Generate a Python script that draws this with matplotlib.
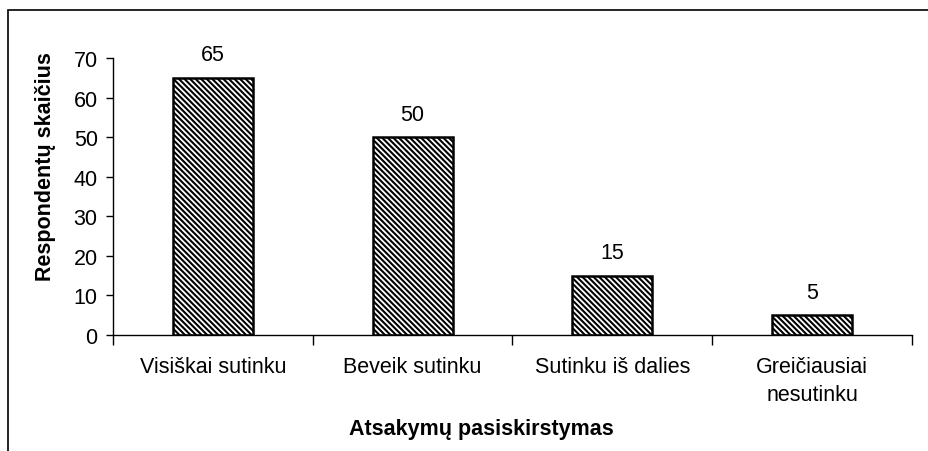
import matplotlib.pyplot as plt
import matplotlib.patches as patches

kategorijos = ['Visiškai sutinku', 'Beveik sutinku', 'Sutinku iš dalies', 'Greičiausiai\nnesutinku']
reiksmes = [65, 50, 15, 5]
y_ticks = [0, 10, 20, 30, 40, 50, 60, 70]

plt.rcParams['font.family'] = ['Liberation Sans', 'DejaVu Sans']
plt.rcParams['hatch.linewidth'] = 1.5

fig = plt.figure(figsize=(9.29, 4.52), dpi=100)
ax = fig.add_axes([113 / 929, 1 - 336 / 452, 799 / 929, 277 / 452 * 80 / 70])

x = range(len(kategorijos))
bars = ax.bar(x, reiksmes, width=0.4, color='white', edgecolor='black',
              linewidth=1.8, hatch='\\\\\\\\\\\\')

for i, v in enumerate(reiksmes):
    ax.annotate(str(v), (i, v), xytext=(0, 9), textcoords='offset points',
                ha='center', va='bottom', fontsize=15.5)

ax.set_xlim(-0.5, len(kategorijos) - 0.5)
ax.set_ylim(0, 80)
ax.set_yticks(y_ticks)
ax.tick_params(axis='y', labelsize=15.5, direction='out', length=5, width=1, pad=6)
ax.set_xticks([i - 0.5 for i in range(len(kategorijos) + 1)], minor=False)
ax.set_xticklabels([])
ax.set_xticks(list(x), minor=True)
ax.set_xticklabels(kategorijos, minor=True, fontsize=15.5, linespacing=1.45)
ax.tick_params(axis='x', which='major', direction='out', length=7, width=1)
ax.tick_params(axis='x', which='minor', length=0, pad=15)

ax.spines['top'].set_visible(False)
ax.spines['right'].set_visible(False)
ax.spines['left'].set_bounds(0, 70)
ax.spines['left'].set_linewidth(1)
ax.spines['bottom'].set_linewidth(1)

ax.set_ylabel('Respondentų skaičius', fontsize=15.5, fontweight='bold')
ax.yaxis.set_label_coords(-0.071, 0.534)
ax.set_xlabel('Atsakymų pasiskirstymas', fontsize=15.5, fontweight='bold')
ax.xaxis.set_label_coords(0.4606, -0.262)

# outer frame
fig.add_artist(patches.Rectangle((8 / 929, -0.1), 1.1, 1 - 11 / 452 + 0.1,
                                 transform=fig.transFigure, fill=False,
                                 edgecolor='black', linewidth=1.2))

fig.savefig('out.png', dpi=100)
